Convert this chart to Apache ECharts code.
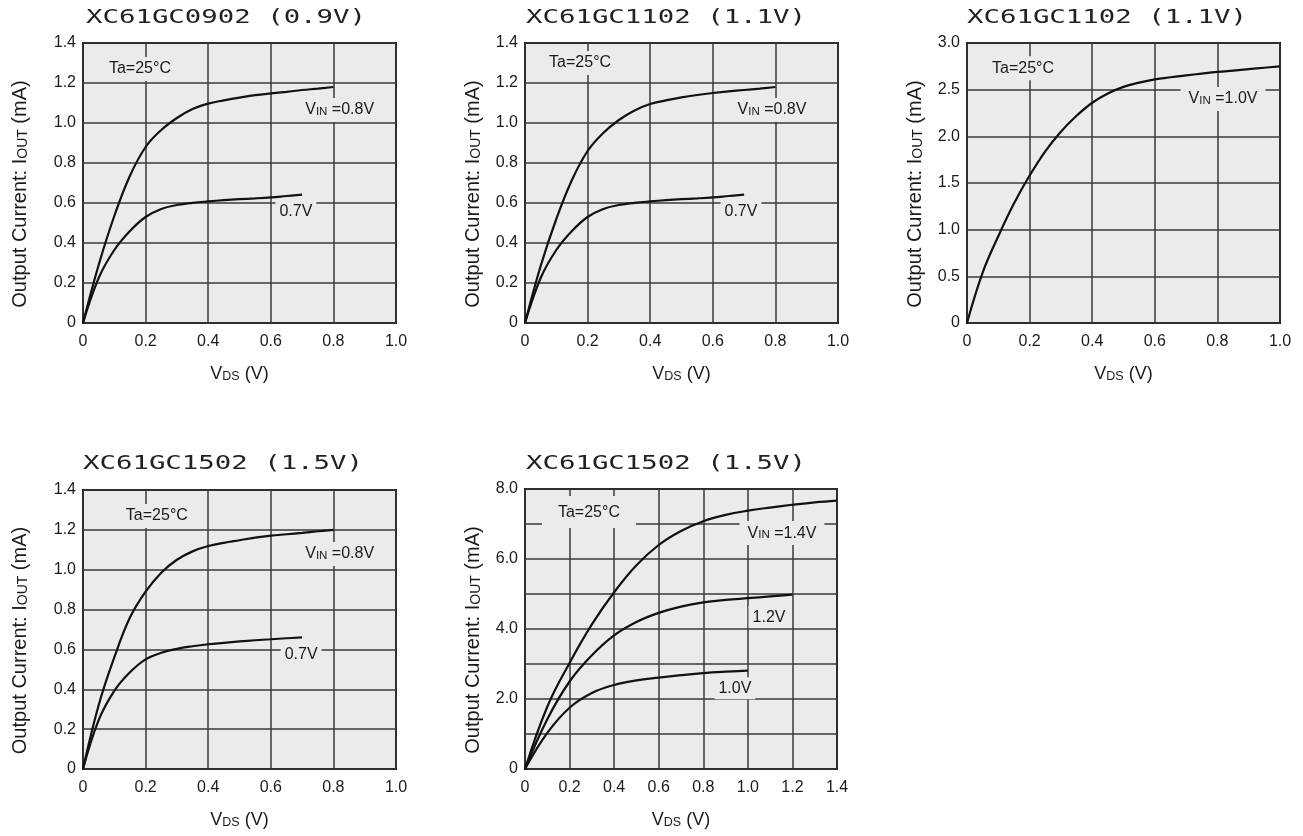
<!DOCTYPE html>
<html>
<head>
<meta charset="utf-8">
<script src="https://cdn.jsdelivr.net/npm/echarts@6/dist/echarts.min.js"></script>
<style>
html,body{margin:0;padding:0;background:#ffffff;}
#c{width:1303px;height:836px;}
</style>
</head>
<body>
<div id="c"></div>
<script>
// ---------------- DATA ----------------
const titles = ['XC61GC0902 (0.9V)', 'XC61GC1102 (1.1V)', 'XC61GC1102 (1.1V)', 'XC61GC1502 (1.5V)', 'XC61GC1502 (1.5V)'];

// VDS sample points (V)
const vds_08 = [0, 0.05, 0.1, 0.15, 0.2, 0.25, 0.3, 0.35, 0.4, 0.45, 0.5, 0.55, 0.6, 0.65, 0.7, 0.75, 0.8];
const vds_07 = [0, 0.05, 0.1, 0.15, 0.2, 0.25, 0.3, 0.35, 0.4, 0.45, 0.5, 0.55, 0.6, 0.65, 0.7];
const vds_10 = [0, 0.05, 0.1, 0.15, 0.2, 0.25, 0.3, 0.35, 0.4, 0.45, 0.5, 0.55, 0.6, 0.65, 0.7, 0.75, 0.8, 0.85, 0.9, 0.95, 1.0];
const vds5_14 = [0, 0.1, 0.2, 0.3, 0.4, 0.5, 0.6, 0.7, 0.8, 0.9, 1.0, 1.1, 1.2, 1.3, 1.4];
const vds5_12 = [0, 0.1, 0.2, 0.3, 0.4, 0.5, 0.6, 0.7, 0.8, 0.9, 1.0, 1.1, 1.2];
const vds5_10 = [0, 0.1, 0.2, 0.3, 0.4, 0.5, 0.6, 0.7, 0.8, 0.9, 1.0];

// Panel 1: XC61GC0902 — IOUT (mA)
const p1_iout_08 = [0, 0.29, 0.535, 0.736, 0.88, 0.965, 1.025, 1.07, 1.097, 1.113, 1.127, 1.139, 1.148, 1.156, 1.165, 1.172, 1.18];
const p1_iout_07 = [0, 0.225, 0.365, 0.46, 0.53, 0.57, 0.59, 0.601, 0.608, 0.614, 0.619, 0.623, 0.628, 0.635, 0.642];

// Panel 2: XC61GC1102
const p2_iout_08 = [0, 0.285, 0.52, 0.715, 0.86, 0.95, 1.015, 1.063, 1.095, 1.113, 1.128, 1.14, 1.15, 1.158, 1.165, 1.172, 1.18];
const p2_iout_07 = [0, 0.225, 0.365, 0.46, 0.53, 0.57, 0.59, 0.601, 0.608, 0.614, 0.619, 0.623, 0.628, 0.635, 0.642];

// Panel 3: XC61GC1102, VIN = 1.0 V
const p3_iout_10 = [0, 0.54, 0.93, 1.28, 1.58, 1.84, 2.05, 2.22, 2.36, 2.46, 2.53, 2.575, 2.61, 2.633, 2.653, 2.672, 2.69, 2.705, 2.72, 2.735, 2.75];

// Panel 4: XC61GC1502
const p4_iout_08 = [0, 0.32, 0.56, 0.76, 0.89, 0.985, 1.05, 1.092, 1.119, 1.135, 1.148, 1.161, 1.171, 1.178, 1.185, 1.193, 1.2];
const p4_iout_07 = [0, 0.245, 0.392, 0.485, 0.55, 0.583, 0.603, 0.616, 0.626, 0.633, 0.64, 0.646, 0.651, 0.656, 0.66];

// Panel 5: XC61GC1502, VIN = 1.4 / 1.2 / 1.0 V
const p5_iout_14 = [0, 1.78, 3.03, 4.13, 5.05, 5.82, 6.4, 6.8, 7.08, 7.26, 7.38, 7.47, 7.55, 7.62, 7.67];
const p5_iout_12 = [0, 1.42, 2.5, 3.25, 3.82, 4.2, 4.46, 4.64, 4.76, 4.83, 4.88, 4.93, 4.98];
const p5_iout_10 = [0, 1.03, 1.75, 2.17, 2.4, 2.53, 2.61, 2.68, 2.74, 2.78, 2.81];

// ---------------- STYLE ----------------
const FONT = "'Liberation Sans', Arial, sans-serif";
const BG = '#ebebeb';
const GRIDC = '#3a3a3a';
const INK = '#1a1a1a';

const pairs = (xs, ys) => xs.map((x, i) => [x, ys[i]]);

const richX = {
  n: {fontSize: 18, fontFamily: FONT, color: INK, verticalAlign: 'bottom'},
  s: {fontSize: 12.5, fontFamily: FONT, color: INK, verticalAlign: 'bottom'}
};
const richY = {
  n: {fontSize: 20, fontFamily: FONT, color: INK, verticalAlign: 'bottom'},
  s: {fontSize: 14, fontFamily: FONT, color: INK, verticalAlign: 'bottom'}
};
const richLab = {
  n: {fontSize: 16, fontFamily: FONT, color: INK, verticalAlign: 'bottom'},
  s: {fontSize: 11.5, fontFamily: FONT, color: INK, verticalAlign: 'bottom'}
};

const gridPos = [
  {left: 83,  top: 43,  width: 313, height: 280},
  {left: 525, top: 43,  width: 313, height: 280},
  {left: 967, top: 43,  width: 313, height: 280},
  {left: 83,  top: 490, width: 313, height: 279},
  {left: 525, top: 489, width: 312, height: 280}
];
const titlePos = [[226, 18], [666, 18], [1107, 18], [223, 464], [666, 464]];

const fmt1 = v => (v === 0 ? '0' : v.toFixed(1));

function xAxisOf(i, max) {
  return {
    gridIndex: i, type: 'value', min: 0, max: max, interval: 0.2,
    name: '{n|V}{s|DS}{n| (V)}', nameLocation: 'middle', nameGap: 42,
    nameTextStyle: {rich: richX},
    axisLine: {show: false}, axisTick: {show: false},
    axisLabel: {margin: 11, fontSize: 16, fontFamily: FONT, color: INK, formatter: fmt1},
    splitLine: {show: true, lineStyle: {color: GRIDC, width: 1.5}}
  };
}
function yAxisOf(i, max, interval, gap, formatter) {
  return {
    gridIndex: i, type: 'value', min: 0, max: max, interval: interval,
    name: '{n|Output Current: I}{s|OUT}{n| (mA)}', nameLocation: 'middle', nameGap: gap,
    nameTextStyle: {rich: richY, padding: [0, 22, 0, 0]},
    axisLine: {show: false}, axisTick: {show: false},
    axisLabel: {margin: 7, fontSize: 16, fontFamily: FONT, color: INK, formatter: formatter || fmt1},
    splitLine: {show: true, lineStyle: {color: GRIDC, width: 1.5}}
  };
}
function curve(i, xs, ys, marks) {
  const s = {
    type: 'line', xAxisIndex: i, yAxisIndex: i, data: pairs(xs, ys),
    smooth: 0.4, symbol: 'none', silent: true,
    lineStyle: {color: '#111', width: 2.2}
  };
  if (marks) {
    s.markPoint = {
      symbol: 'rect', symbolSize: 1, silent: true,
      itemStyle: {color: 'rgba(0,0,0,0)'},
      label: {show: true, position: 'inside', color: INK, fontFamily: FONT, fontSize: 16,
              backgroundColor: BG, padding: [4, 7], rich: richLab},
      data: marks
    };
  }
  return s;
}
const mk = (x, y, text, pad) => {
  const o = {coord: [x, y], label: {formatter: text}};
  if (pad) o.label.padding = pad;
  return o;
};

const option = {
  animation: false,
  backgroundColor: '#ffffff',
  graphic: titles.map((t, i) => ({
    type: 'text', x: titlePos[i][0], y: titlePos[i][1], scaleX: 1.44, silent: true,
    style: {text: t, fill: '#222', font: "19px 'DejaVu Sans Mono', monospace",
            textAlign: 'center', textVerticalAlign: 'middle'}
  })),
  grid: gridPos.map(g => Object.assign({show: true, backgroundColor: BG, borderColor: '#111', borderWidth: 2, containLabel: false}, g)),
  xAxis: [xAxisOf(0, 1.0), xAxisOf(1, 1.0), xAxisOf(2, 1.0), xAxisOf(3, 1.0), xAxisOf(4, 1.4)],
  yAxis: [
    yAxisOf(0, 1.4, 0.2, 53),
    yAxisOf(1, 1.4, 0.2, 42),
    yAxisOf(2, 3.0, 0.5, 42),
    yAxisOf(3, 1.4, 0.2, 53),
    yAxisOf(4, 8, 1, 42, v => (v === 0 ? '0' : (v % 2 === 0 ? v.toFixed(1) : '')))
  ],
  series: [
    curve(0, vds_08, p1_iout_08, [
      mk(0.182, 1.27, 'Ta=25°C'),
      mk(0.82, 1.065, '{n|V}{s|IN}{n| =0.8V}'),
      mk(0.68, 0.555, '0.7V', [3, 4])
    ]),
    curve(0, vds_07, p1_iout_07),
    curve(1, vds_08, p2_iout_08, [
      mk(0.176, 1.30, 'Ta=25°C'),
      mk(0.789, 1.065, '{n|V}{s|IN}{n| =0.8V}'),
      mk(0.69, 0.555, '0.7V', [3, 4])
    ]),
    curve(1, vds_07, p2_iout_07),
    curve(2, vds_10, p3_iout_10, [
      mk(0.179, 2.73, 'Ta=25°C'),
      mk(0.818, 2.40, '{n|V}{s|IN}{n| =1.0V}', [4, 8])
    ]),
    curve(3, vds_08, p4_iout_08, [
      mk(0.236, 1.27, 'Ta=25°C'),
      mk(0.82, 1.079, '{n|V}{s|IN}{n| =0.8V}'),
      mk(0.697, 0.572, '0.7V', [3, 4])
    ]),
    curve(3, vds_07, p4_iout_07),
    curve(4, vds5_14, p5_iout_14, [
      mk(0.287, 7.34, 'Ta=25°C', [8, 16]),
      mk(1.153, 6.74, '{n|V}{s|IN}{n| =1.4V}', [4, 8]),
      mk(1.095, 4.34, '1.2V', [3, 4]),
      mk(0.942, 2.31, '1.0V', [3, 4])
    ]),
    curve(4, vds5_12, p5_iout_12),
    curve(4, vds5_10, p5_iout_10)
  ]
};

const chart = echarts.init(document.getElementById('c'), null, {renderer: 'canvas'});
chart.setOption(option);
</script>
</body>
</html>
